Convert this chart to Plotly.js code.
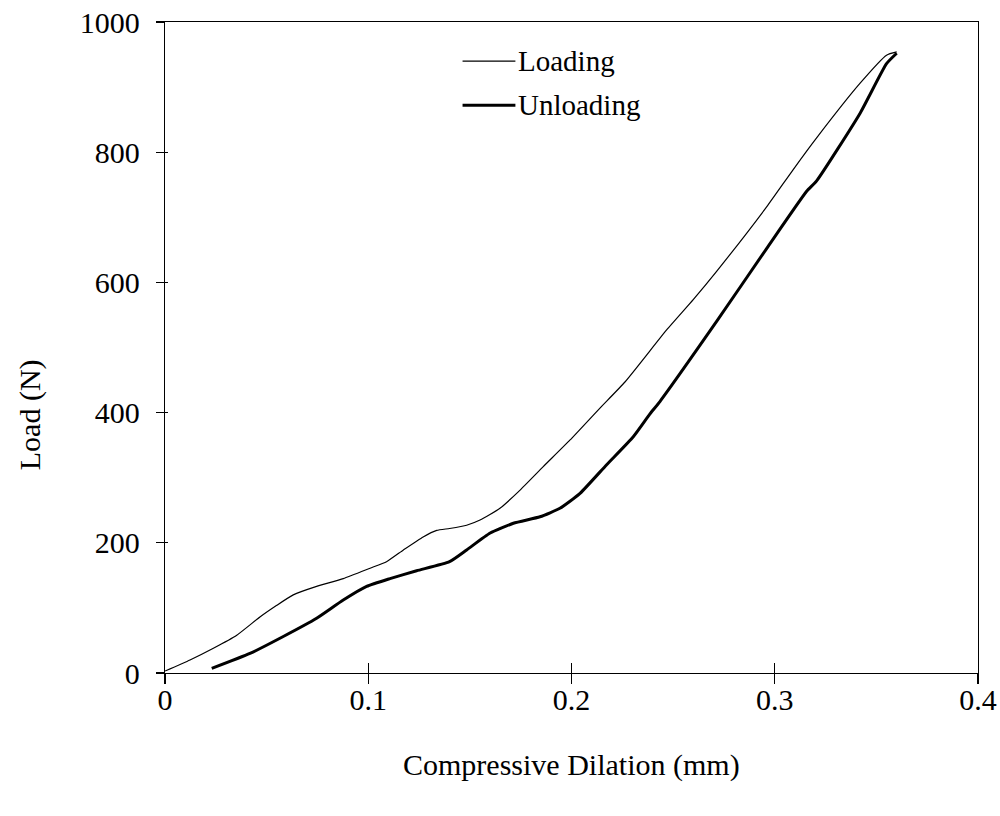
<!DOCTYPE html>
<html>
<head>
<meta charset="utf-8">
<script src="https://cdn.plot.ly/plotly-3.0.1.min.js"></script>
<style>html,body{margin:0;padding:0;background:#fff;}#chart{width:1000px;height:816px;}</style>
</head>
<body>
<div id="chart"></div>
<script>
// Loading curve (Compressive Dilation mm, Load N)
const loadingX = [0, 0.0123, 0.0238, 0.0353, 0.0467, 0.055, 0.0631, 0.0746, 0.0877, 0.1009, 0.109, 0.1173, 0.127, 0.1337, 0.140, 0.1484, 0.155, 0.1648, 0.1747, 0.1861, 0.1993, 0.214, 0.2263, 0.2468, 0.260, 0.2714, 0.296, 0.309, 0.3206, 0.342, 0.355, 0.360];
const loadingY = [3, 20, 38, 58, 86, 104, 120, 133, 145, 161, 171, 189, 209, 219, 222, 227, 235, 253, 281, 317, 358, 407, 447, 527, 574, 617, 716, 773, 822, 906, 949, 954];
// Unloading curve
const unloadingX = [0.023, 0.0418, 0.0582, 0.0746, 0.0877, 0.0992, 0.1107, 0.1238, 0.140, 0.1484, 0.160, 0.1714, 0.1845, 0.1943, 0.2042, 0.2173, 0.2304, 0.2386, 0.2435, 0.2714, 0.296, 0.3157, 0.3206, 0.342, 0.355, 0.360];
const unloadingY = [7, 30, 56, 84, 112, 133, 145, 157, 171, 189, 215, 230, 240, 253, 276, 320, 363, 398, 417, 540, 652, 740, 756, 860, 936, 952];

const seriesNames = ["Loading", "Unloading"];
const xTickVals = [0, 0.1, 0.2, 0.3, 0.4];
const xTickText = ["0", "0.1", "0.2", "0.3", "0.4"];
const yTickVals = [0, 200, 400, 600, 800, 1000];
const yTickText = ["0", "200", "400", "600", "800", "1000"];
const xTitle = "Compressive Dilation (mm)";
const yTitle = "Load (N)";

const FONT = "Liberation Serif, Times New Roman, serif";

const traces = [
  {x: loadingX, y: loadingY, mode: "lines", name: seriesNames[0], line: {color: "#000", width: 1.2, shape: "spline", smoothing: 0.5}, showlegend: false},
  {x: unloadingX, y: unloadingY, mode: "lines", name: seriesNames[1], line: {color: "#000", width: 3, shape: "spline", smoothing: 0.5}, showlegend: false},
  {x: [null], y: [null], xaxis: "x2", yaxis: "y2", showlegend: false, hoverinfo: "skip"},
  {x: [null], y: [null], xaxis: "x3", yaxis: "y2", showlegend: false, hoverinfo: "skip"}
];

const layout = {
  width: 1000, height: 816,
  margin: {l: 165, r: 22, t: 22, b: 143},
  paper_bgcolor: "#fff", plot_bgcolor: "#fff",
  font: {family: FONT, color: "#000", size: 30},
  showlegend: false,
  xaxis: {
    range: [0, 0.4], tickvals: xTickVals, ticktext: xTickText,
    ticks: "",
    showline: true, linecolor: "#000", linewidth: 1.3, mirror: true,
    showgrid: false, zeroline: false,
    tickfont: {family: FONT, size: 30}
  },
  yaxis: {
    range: [0, 1000], tickvals: yTickVals, ticktext: yTickText,
    ticks: "outside", ticklen: 8, tickwidth: 1.3, tickcolor: "#000",
    ticklabelstandoff: 10,
    showline: true, linecolor: "#000", linewidth: 1.3, mirror: true,
    showgrid: false, zeroline: false,
    tickfont: {family: FONT, size: 30}
  },
  xaxis2: {
    range: [0, 0.4], tickvals: xTickVals, overlaying: "x", anchor: "y2",
    ticks: "inside", ticklen: 10, tickwidth: 1.3, tickcolor: "#000",
    showticklabels: false, showline: false, showgrid: false, zeroline: false
  },
  xaxis3: {
    range: [0, 0.4], tickvals: xTickVals, overlaying: "x", anchor: "y2",
    ticks: "outside", ticklen: 10, tickwidth: 1.3, tickcolor: "#000",
    showticklabels: false, showline: false, showgrid: false, zeroline: false
  },
  yaxis2: {
    range: [0, 1000], tickvals: yTickVals, overlaying: "y", anchor: "x2",
    ticks: "inside", ticklen: 3, tickwidth: 1.3, tickcolor: "#000",
    showticklabels: false, showline: false, showgrid: false, zeroline: false
  },
  shapes: [
    {type: "line", xref: "paper", yref: "paper", x0: 0.366, x1: 0.431, y0: 0.94, y1: 0.94, line: {color: "#000", width: 1.2}},
    {type: "line", xref: "paper", yref: "paper", x0: 0.366, x1: 0.431, y0: 0.872, y1: 0.872, line: {color: "#000", width: 3}}
  ],
  annotations: [
    {xref: "paper", yref: "paper", x: 0.432, y: 0.94, xanchor: "left", yanchor: "middle", text: seriesNames[0], showarrow: false, font: {family: FONT, size: 29}},
    {xref: "paper", yref: "paper", x: 0.432, y: 0.872, xanchor: "left", yanchor: "middle", text: seriesNames[1], showarrow: false, font: {family: FONT, size: 29}},
    {xref: "paper", yref: "paper", x: 0.5, y: -0.141, xanchor: "center", yanchor: "middle", text: xTitle, showarrow: false, font: {family: FONT, size: 30}},
    {xref: "paper", yref: "paper", x: -0.166, y: 0.396, xanchor: "center", yanchor: "middle", text: yTitle, textangle: -90, showarrow: false, font: {family: FONT, size: 30}}
  ]
};

Plotly.newPlot("chart", traces, layout, {displayModeBar: false, staticPlot: true});
</script>
</body>
</html>
